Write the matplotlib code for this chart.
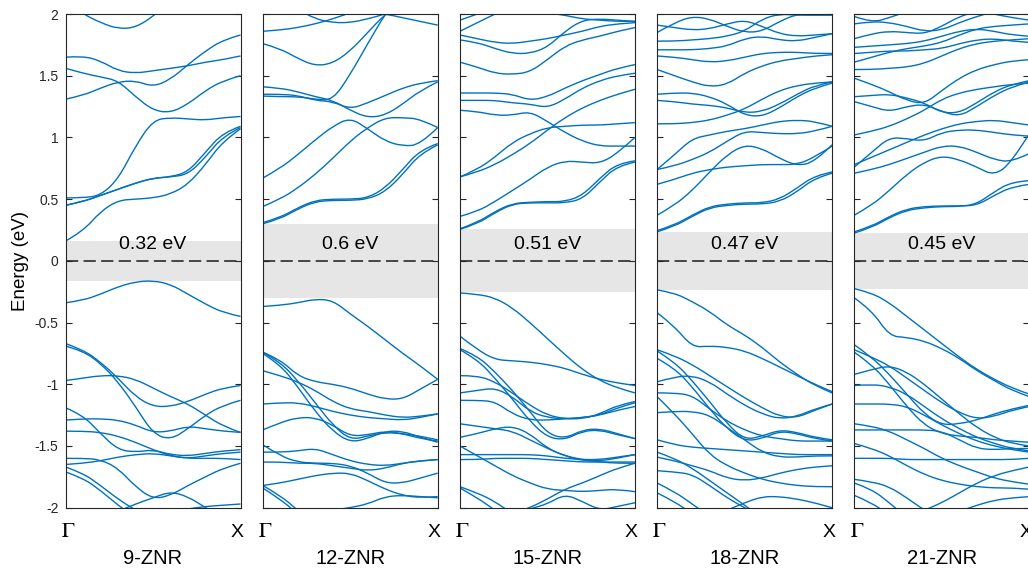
#!/usr/bin/env python3
"""Band structures of zigzag nanoribbons of increasing width."""

import matplotlib

matplotlib.use("Agg")
import matplotlib.pyplot as plt
import numpy as np
from matplotlib.patches import PathPatch
from matplotlib.path import Path

plt.rcParams["font.family"] = ["Liberation Sans", "DejaVu Sans"]
plt.rcParams["mathtext.fontset"] = "stix"

# k-path samples from Gamma (0) to X (1)
k_path = np.linspace(0.0, 1.0, 11)

ribbon_names = ["9-ZNR", "12-ZNR", "15-ZNR", "18-ZNR", "21-ZNR"]
band_gaps = [0.32, 0.6, 0.51, 0.47, 0.45]
k_labels = [r"$\Gamma$", "X"]

# ---- 9-ZNR ----
cond_9 = [
    [0.16, 0.24, 0.40, 0.49, 0.50, 0.51, 0.54, 0.62, 0.78, 0.97, 1.07],
    [0.45, 0.48, 0.53, 0.58, 0.63, 0.67, 0.68, 0.70, 0.84, 1.01, 1.08],
    [0.45, 0.48, 0.53, 0.58, 0.63, 0.67, 0.68, 0.72, 0.88, 1.04, 1.09],
    [0.51, 0.51, 0.53, 0.66, 0.93, 1.14, 1.16, 1.15, 1.14, 1.16, 1.17],
    [1.31, 1.34, 1.40, 1.45, 1.46, 1.41, 1.47, 1.59, 1.70, 1.79, 1.83],
    [1.56, 1.52, 1.49, 1.46, 1.33, 1.22, 1.20, 1.27, 1.38, 1.46, 1.50],
    [1.65, 1.66, 1.62, 1.54, 1.52, 1.54, 1.56, 1.58, 1.61, 1.63, 1.66],
    [2.10, 2.00, 1.93, 1.88, 1.89, 1.98, 2.10, 2.20, 2.28, 2.34, 2.36],
]
val_9 = [
    [-0.34, -0.32, -0.27, -0.21, -0.17, -0.16, -0.19, -0.27, -0.35, -0.42, -0.45],
    [-0.67, -0.72, -0.82, -0.95, -1.10, -1.18, -1.18, -1.14, -1.08, -1.03, -1.01],
    [-0.69, -0.73, -0.83, -0.98, -1.18, -1.40, -1.45, -1.36, -1.25, -1.17, -1.13],
    [-0.97, -0.95, -0.93, -0.93, -0.96, -1.03, -1.10, -1.16, -1.25, -1.34, -1.39],
    [-1.29, -1.28, -1.28, -1.29, -1.33, -1.39, -1.38, -1.34, -1.36, -1.38, -1.39],
    [-1.19, -1.25, -1.40, -1.53, -1.55, -1.53, -1.57, -1.58, -1.56, -1.54, -1.53],
    [-1.38, -1.38, -1.39, -1.42, -1.47, -1.53, -1.58, -1.60, -1.60, -1.60, -1.61],
    [-1.60, -1.60, -1.61, -1.68, -1.83, -1.93, -1.90, -1.82, -1.75, -1.68, -1.64],
    [-1.65, -1.64, -1.62, -1.59, -1.57, -1.56, -1.58, -1.60, -1.58, -1.56, -1.55],
    [-1.67, -1.72, -1.82, -1.93, -2.02, -2.10, -2.16, -2.20, -2.22, -2.23, -2.24],
    [-1.71, -1.76, -1.86, -1.98, -2.08, -2.15, -2.20, -2.24, -2.26, -2.27, -2.28],
    [-2.30, -2.20, -2.10, -2.03, -1.97, -1.92, -1.87, -1.91, -2.00, -2.08, -2.12],
    [-2.40, -2.35, -2.28, -2.20, -2.12, -2.06, -2.03, -2.01, -1.99, -1.98, -1.97],
]

# ---- 12-ZNR ----
cond_12 = [
    [0.30, 0.34, 0.42, 0.48, 0.49, 0.49, 0.50, 0.56, 0.70, 0.87, 0.94],
    [0.31, 0.35, 0.43, 0.49, 0.50, 0.50, 0.51, 0.59, 0.74, 0.90, 0.95],
    [0.44, 0.50, 0.59, 0.70, 0.83, 0.97, 1.08, 1.16, 1.16, 1.15, 1.08],
    [0.67, 0.75, 0.86, 0.98, 1.09, 1.16, 1.07, 0.97, 0.93, 0.94, 1.08],
    [1.41, 1.40, 1.37, 1.33, 1.30, 1.22, 1.16, 1.18, 1.27, 1.38, 1.45],
    [1.35, 1.35, 1.34, 1.30, 1.29, 1.23, 1.28, 1.34, 1.40, 1.44, 1.46],
    [1.335, 1.33, 1.33, 1.31, 1.30, 1.51, 1.76, 2.00, 2.20, 2.30, 2.40],
    [1.76, 1.72, 1.64, 1.58, 1.60, 1.70, 1.85, 2.00, 2.10, 2.20, 2.25],
    [1.86, 1.87, 1.89, 1.92, 1.96, 2.01, 2.06, 2.10, 2.12, 2.12, 2.10],
    [2.20, 2.15, 2.08, 2.03, 2.01, 2.02, 2.01, 2.00, 1.97, 1.94, 1.91],
    [2.20, 2.12, 2.04, 1.96, 1.93, 1.93, 1.96, 2.00, 2.05, 2.10, 2.10],
]
val_12 = [
    [-0.37, -0.36, -0.34, -0.31, -0.32, -0.43, -0.53, -0.64, -0.75, -0.85, -0.96],
    [-0.74, -0.80, -0.93, -0.98, -1.00, -1.03, -1.08, -1.12, -1.12, -1.04, -0.96],
    [-0.74, -0.82, -0.97, -1.15, -1.33, -1.45, -1.42, -1.39, -1.40, -1.42, -1.45],
    [-0.75, -0.84, -1.02, -1.22, -1.38, -1.47, -1.44, -1.38, -1.38, -1.43, -1.47],
    [-0.89, -0.93, -0.98, -1.05, -1.14, -1.20, -1.22, -1.25, -1.27, -1.26, -1.24],
    [-1.16, -1.15, -1.15, -1.18, -1.22, -1.25, -1.27, -1.28, -1.29, -1.27, -1.24],
    [-1.37, -1.31, -1.27, -1.27, -1.33, -1.42, -1.41, -1.38, -1.40, -1.44, -1.46],
    [-1.49, -1.58, -1.63, -1.64, -1.64, -1.66, -1.72, -1.80, -1.80, -1.76, -1.72],
    [-1.55, -1.55, -1.54, -1.52, -1.57, -1.62, -1.65, -1.66, -1.64, -1.62, -1.61],
    [-1.63, -1.63, -1.64, -1.64, -1.66, -1.68, -1.70, -1.68, -1.64, -1.62, -1.61],
    [-1.82, -1.80, -1.77, -1.74, -1.72, -1.72, -1.78, -1.85, -1.90, -1.92, -1.91],
    [-1.82, -1.90, -2.02, -2.15, -2.25, -2.32, -2.36, -2.38, -2.40, -2.40, -2.40],
    [-1.84, -1.93, -2.05, -2.18, -2.28, -2.35, -2.40, -2.42, -2.44, -2.45, -2.45],
    [-2.30, -2.20, -2.10, -2.05, -2.02, -2.00, -1.97, -1.91, -1.90, -1.91, -1.92],
]

# ---- 15-ZNR ----
cond_15 = [
    [0.255, 0.30, 0.39, 0.46, 0.47, 0.47, 0.47, 0.50, 0.64, 0.77, 0.80],
    [0.26, 0.31, 0.40, 0.465, 0.475, 0.48, 0.48, 0.53, 0.67, 0.79, 0.81],
    [0.36, 0.40, 0.48, 0.57, 0.66, 0.76, 0.81, 0.80, 0.79, 0.87, 1.00],
    [0.68, 0.74, 0.84, 0.96, 1.03, 1.08, 1.09, 1.10, 1.10, 1.11, 1.12],
    [0.68, 0.72, 0.78, 0.86, 0.95, 1.06, 1.16, 1.24, 1.30, 1.35, 1.39],
    [1.22, 1.21, 1.18, 1.18, 1.21, 1.13, 1.04, 0.97, 0.93, 0.93, 0.93],
    [1.30, 1.30, 1.30, 1.28, 1.27, 1.24, 1.31, 1.40, 1.46, 1.50, 1.52],
    [1.36, 1.36, 1.36, 1.35, 1.30, 1.33, 1.40, 1.46, 1.51, 1.56, 1.59],
    [1.61, 1.57, 1.52, 1.51, 1.53, 1.63, 1.74, 1.79, 1.82, 1.86, 1.89],
    [1.79, 1.77, 1.72, 1.68, 1.68, 1.73, 1.86, 1.95, 1.96, 1.95, 1.94],
    [1.83, 1.80, 1.77, 1.76, 1.78, 1.80, 1.83, 1.86, 1.90, 1.92, 1.93],
    [1.95, 2.00, 2.05, 2.10, 2.12, 2.12, 2.10, 2.08, 2.06, 2.05, 2.05],
    [1.86, 1.93, 2.00, 2.06, 2.10, 2.12, 2.10, 2.06, 2.03, 2.01, 2.00],
    [2.20, 2.15, 2.10, 2.06, 2.03, 2.01, 1.99, 1.96, 1.95, 1.94, 1.94],
]
val_15 = [
    [-0.26, -0.27, -0.30, -0.38, -0.50, -0.63, -0.76, -0.88, -0.97, -1.03, -1.07],
    [-0.61, -0.72, -0.80, -0.81, -0.82, -0.84, -0.87, -0.92, -0.96, -0.99, -1.01],
    [-0.71, -0.77, -0.90, -1.05, -1.22, -1.40, -1.44, -1.37, -1.36, -1.40, -1.44],
    [-0.72, -0.80, -0.95, -1.12, -1.30, -1.43, -1.45, -1.38, -1.37, -1.41, -1.44],
    [-0.93, -0.93, -0.98, -1.07, -1.17, -1.25, -1.28, -1.28, -1.24, -1.17, -1.14],
    [-1.07, -1.05, -1.03, -1.10, -1.22, -1.27, -1.28, -1.27, -1.25, -1.21, -1.18],
    [-1.13, -1.13, -1.14, -1.24, -1.29, -1.29, -1.28, -1.27, -1.25, -1.19, -1.15],
    [-1.32, -1.34, -1.36, -1.38, -1.45, -1.52, -1.58, -1.62, -1.62, -1.60, -1.57],
    [-1.43, -1.40, -1.36, -1.34, -1.40, -1.52, -1.58, -1.61, -1.63, -1.64, -1.64],
    [-1.57, -1.57, -1.57, -1.57, -1.57, -1.58, -1.60, -1.61, -1.61, -1.59, -1.57],
    [-1.61, -1.61, -1.60, -1.60, -1.60, -1.61, -1.62, -1.63, -1.63, -1.63, -1.63],
    [-1.50, -1.58, -1.66, -1.74, -1.80, -1.85, -1.86, -1.87, -1.86, -1.85, -1.87],
    [-2.30, -2.20, -2.10, -2.05, -2.00, -1.93, -1.85, -1.80, -1.74, -1.68, -1.64],
    [-1.83, -1.88, -1.95, -2.05, -2.15, -2.22, -2.28, -2.32, -2.34, -2.35, -2.35],
    [-1.84, -1.92, -2.02, -2.12, -2.20, -2.26, -2.30, -2.33, -2.35, -2.36, -2.36],
    [-2.40, -2.30, -2.15, -2.05, -2.01, -1.97, -1.89, -1.95, -2.02, -1.99, -1.96],
]

# ---- 18-ZNR ----
cond_18 = [
    [0.235, 0.28, 0.36, 0.43, 0.45, 0.46, 0.46, 0.48, 0.56, 0.67, 0.71],
    [0.245, 0.29, 0.37, 0.44, 0.46, 0.47, 0.47, 0.50, 0.59, 0.69, 0.72],
    [0.37, 0.45, 0.57, 0.72, 0.86, 0.94, 0.91, 0.83, 0.77, 0.80, 0.94],
    [0.62, 0.66, 0.71, 0.74, 0.76, 0.77, 0.78, 0.78, 0.78, 0.84, 0.93],
    [0.74, 0.86, 0.99, 1.02, 1.05, 1.07, 1.10, 1.13, 1.14, 1.13, 1.09],
    [0.74, 0.77, 0.82, 0.88, 0.97, 1.05, 1.04, 1.03, 1.03, 1.05, 1.09],
    [1.11, 1.11, 1.12, 1.14, 1.18, 1.23, 1.31, 1.38, 1.42, 1.44, 1.45],
    [1.30, 1.29, 1.27, 1.26, 1.24, 1.20, 1.21, 1.27, 1.35, 1.42, 1.45],
    [1.35, 1.36, 1.36, 1.33, 1.27, 1.18, 1.17, 1.24, 1.33, 1.40, 1.44],
    [1.55, 1.50, 1.45, 1.41, 1.43, 1.52, 1.58, 1.62, 1.64, 1.66, 1.67],
    [1.66, 1.65, 1.63, 1.61, 1.62, 1.65, 1.68, 1.69, 1.69, 1.68, 1.68],
    [1.71, 1.71, 1.71, 1.72, 1.74, 1.80, 1.82, 1.79, 1.78, 1.81, 1.84],
    [1.78, 1.78, 1.79, 1.80, 1.82, 1.86, 1.96, 2.00, 1.99, 1.99, 1.99],
    [1.91, 1.89, 1.87, 1.88, 1.92, 1.95, 1.90, 1.84, 1.82, 1.83, 1.84],
    [1.85, 1.93, 1.98, 1.96, 1.90, 1.85, 1.86, 1.94, 2.00, 2.00, 2.00],
]
val_18 = [
    [-0.235, -0.26, -0.33, -0.41, -0.52, -0.60, -0.70, -0.82, -0.92, -1.01, -1.07],
    [-0.42, -0.53, -0.70, -0.69, -0.70, -0.73, -0.79, -0.86, -0.93, -1.00, -1.06],
    [-0.72, -0.77, -0.84, -0.93, -1.02, -1.11, -1.19, -1.26, -1.27, -1.21, -1.16],
    [-0.73, -0.82, -0.97, -1.14, -1.32, -1.45, -1.42, -1.37, -1.39, -1.43, -1.45],
    [-0.79, -0.87, -1.02, -1.20, -1.36, -1.46, -1.44, -1.38, -1.40, -1.44, -1.46],
    [-0.98, -0.94, -0.93, -0.98, -1.08, -1.17, -1.24, -1.28, -1.26, -1.20, -1.16],
    [-1.07, -1.07, -1.09, -1.20, -1.30, -1.37, -1.42, -1.44, -1.46, -1.46, -1.46],
    [-1.10, -1.24, -1.40, -1.57, -1.66, -1.72, -1.77, -1.80, -1.82, -1.83, -1.83],
    [-1.23, -1.22, -1.22, -1.25, -1.35, -1.45, -1.55, -1.59, -1.59, -1.58, -1.58],
    [-1.45, -1.49, -1.51, -1.52, -1.53, -1.54, -1.55, -1.56, -1.57, -1.57, -1.57],
    [-1.55, -1.60, -1.68, -1.78, -1.88, -1.98, -2.08, -2.15, -2.20, -2.22, -2.23],
    [-1.59, -1.62, -1.66, -1.70, -1.76, -1.78, -1.76, -1.72, -1.69, -1.67, -1.66],
    [-1.70, -1.71, -1.73, -1.82, -1.92, -2.00, -2.08, -2.14, -2.18, -2.20, -2.21],
    [-1.80, -1.87, -1.97, -2.07, -2.15, -2.20, -2.24, -2.26, -2.28, -2.29, -2.29],
    [-1.88, -1.95, -2.05, -2.13, -2.20, -2.25, -2.28, -2.30, -2.31, -2.32, -2.32],
    [-2.40, -2.30, -2.20, -2.10, -2.02, -1.96, -1.91, -1.91, -1.93, -1.96, -2.00],
]

# ---- 21-ZNR ----
cond_21 = [
    [0.225, 0.27, 0.35, 0.41, 0.43, 0.44, 0.44, 0.46, 0.56, 0.64, 0.65],
    [0.235, 0.28, 0.36, 0.42, 0.44, 0.445, 0.445, 0.45, 0.53, 0.60, 0.62],
    [0.37, 0.45, 0.57, 0.70, 0.80, 0.85, 0.82, 0.76, 0.69, 0.80, 1.03],
    [0.71, 0.74, 0.78, 0.83, 0.88, 0.93, 0.93, 0.88, 0.82, 0.80, 0.87],
    [0.76, 0.88, 1.00, 0.99, 0.97, 1.04, 1.06, 1.06, 1.04, 1.02, 1.01],
    [0.78, 0.84, 0.90, 0.96, 1.02, 1.07, 1.11, 1.13, 1.14, 1.12, 1.10],
    [1.02, 1.05, 1.09, 1.15, 1.22, 1.31, 1.36, 1.39, 1.41, 1.43, 1.44],
    [1.33, 1.34, 1.35, 1.32, 1.28, 1.20, 1.20, 1.28, 1.37, 1.43, 1.46],
    [1.29, 1.25, 1.21, 1.25, 1.27, 1.21, 1.17, 1.25, 1.34, 1.41, 1.45],
    [1.48, 1.43, 1.37, 1.30, 1.27, 1.38, 1.48, 1.55, 1.59, 1.62, 1.63],
    [1.55, 1.55, 1.56, 1.57, 1.60, 1.66, 1.72, 1.76, 1.78, 1.79, 1.80],
    [1.61, 1.65, 1.69, 1.72, 1.74, 1.77, 1.83, 1.88, 1.90, 1.91, 1.92],
    [1.68, 1.69, 1.70, 1.70, 1.71, 1.72, 1.76, 1.79, 1.80, 1.78, 1.77],
    [1.73, 1.74, 1.75, 1.76, 1.78, 1.82, 1.86, 1.88, 1.86, 1.83, 1.82],
    [1.80, 1.84, 1.86, 1.85, 1.84, 1.90, 1.98, 2.02, 2.00, 1.97, 1.95],
    [1.92, 1.94, 1.93, 1.90, 1.86, 1.87, 1.93, 1.98, 2.02, 2.04, 2.05],
    [1.98, 1.93, 1.97, 2.02, 2.06, 2.08, 2.08, 2.06, 2.04, 2.03, 2.03],
]
val_21 = [
    [-0.225, -0.26, -0.34, -0.45, -0.56, -0.67, -0.78, -0.88, -0.96, -1.03, -1.08],
    [-0.30, -0.40, -0.61, -0.62, -0.65, -0.71, -0.79, -0.89, -0.97, -1.05, -1.10],
    [-0.68, -0.78, -0.92, -1.08, -1.24, -1.33, -1.32, -1.29, -1.24, -1.20, -1.17],
    [-0.72, -0.78, -0.85, -0.95, -1.05, -1.15, -1.23, -1.28, -1.26, -1.21, -1.18],
    [-0.74, -0.84, -1.00, -1.18, -1.33, -1.40, -1.42, -1.43, -1.45, -1.46, -1.47],
    [-0.92, -0.88, -0.85, -0.90, -1.00, -1.12, -1.24, -1.35, -1.43, -1.48, -1.50],
    [-1.01, -1.00, -1.02, -1.08, -1.18, -1.28, -1.36, -1.43, -1.48, -1.52, -1.54],
    [-1.16, -1.16, -1.16, -1.18, -1.25, -1.33, -1.40, -1.46, -1.50, -1.53, -1.55],
    [-1.32, -1.34, -1.38, -1.45, -1.52, -1.60, -1.66, -1.71, -1.76, -1.79, -1.81],
    [-1.37, -1.37, -1.37, -1.37, -1.37, -1.38, -1.45, -1.52, -1.53, -1.52, -1.52],
    [-1.48, -1.52, -1.58, -1.66, -1.73, -1.78, -1.81, -1.83, -1.84, -1.84, -1.85],
    [-1.60, -1.60, -1.60, -1.61, -1.61, -1.61, -1.61, -1.61, -1.61, -1.61, -1.60],
    [-1.77, -1.79, -1.83, -1.92, -2.02, -2.10, -2.16, -2.20, -2.22, -2.23, -2.24],
    [-1.80, -1.85, -1.96, -2.08, -2.16, -2.22, -2.26, -2.28, -2.30, -2.31, -2.31],
    [-1.90, -1.96, -2.06, -2.14, -2.20, -2.25, -2.28, -2.30, -2.31, -2.32, -2.32],
    [-2.40, -2.30, -2.20, -2.10, -2.02, -1.96, -1.88, -1.80, -1.74, -1.70, -1.67],
    [-2.40, -2.30, -2.20, -2.15, -2.10, -2.06, -2.03, -1.98, -1.94, -1.92, -1.91],
]

conduction_bands = [cond_9, cond_12, cond_15, cond_18, cond_21]
valence_bands = [val_9, val_12, val_15, val_18, val_21]

BAND_COLOR = "#0072BD"
SPINE_COLOR = "#262626"


def smooth_band(ax, k, energy, **kwargs):
    """Draw a band as a chain of quadratic Bezier segments through the samples."""
    pts = np.column_stack([k, energy])
    verts = [pts[0]]
    codes = [Path.MOVETO]
    for i in range(1, len(pts) - 2):
        verts += [pts[i], (pts[i] + pts[i + 1]) / 2]
        codes += [Path.CURVE3, Path.CURVE3]
    verts += [pts[-2], pts[-1]]
    codes += [Path.CURVE3, Path.CURVE3]
    ax.add_patch(PathPatch(Path(verts, codes), fill=False, **kwargs))


def draw_panel(ax, name, gap, cond, val, first):
    ax.axhspan(-gap / 2, gap / 2, color="#e6e6e6", lw=0, zorder=0)
    ax.axhline(0, color="#1a1a1a", lw=1.1, ls=(0, (8, 3.5)), zorder=1)
    for band in cond + val:
        smooth_band(ax, k_path, band, edgecolor=BAND_COLOR, lw=1.0, zorder=2)
    ax.text(0.5, 0.13, f"{gap:g} eV", ha="center", va="center", fontsize=14, zorder=3)

    ax.set_xlim(0, 1)
    ax.set_ylim(-2, 2)
    ax.set_xticks([])
    # high-symmetry point labels and ribbon name under the panel (axes coords)
    ax.text(0.014, -0.0595, k_labels[0], transform=ax.transAxes, ha="center",
            va="baseline", fontsize=15.5, clip_on=False)
    ax.text(0.98, -0.0595, k_labels[1], transform=ax.transAxes, ha="center",
            va="baseline", fontsize=14, clip_on=False)
    ax.text(0.5, -0.114, name, transform=ax.transAxes, ha="center",
            va="baseline", fontsize=14.5, clip_on=False)

    ax.set_yticks(np.arange(-2, 2.01, 0.5))
    ax.tick_params(axis="y", direction="in", length=4, width=0.8, right=True,
                   colors=SPINE_COLOR, labelsize=10, pad=5)
    if first:
        ax.set_yticklabels(["-2", "-1.5", "-1", "-0.5", "0", "0.5", "1", "1.5", "2"])
        ax.set_ylabel("Energy (eV)", fontsize=13.5, labelpad=4)
    else:
        ax.set_yticklabels([])
    for spine in ax.spines.values():
        spine.set_color(SPINE_COLOR)
        spine.set_linewidth(0.8)


def main() -> None:
    width, height = 1028, 569
    fig = plt.figure(figsize=(width / 100, height / 100), dpi=100)
    for i, name in enumerate(ribbon_names):
        left = 65.5 + i * 197.2
        ax = fig.add_axes([left / width, 61.3 / height, 175 / width, 493.7 / height])
        draw_panel(ax, name, band_gaps[i], conduction_bands[i], valence_bands[i], i == 0)
    fig.savefig("out.png", dpi=100)
    plt.close(fig)


if __name__ == "__main__":
    main()
